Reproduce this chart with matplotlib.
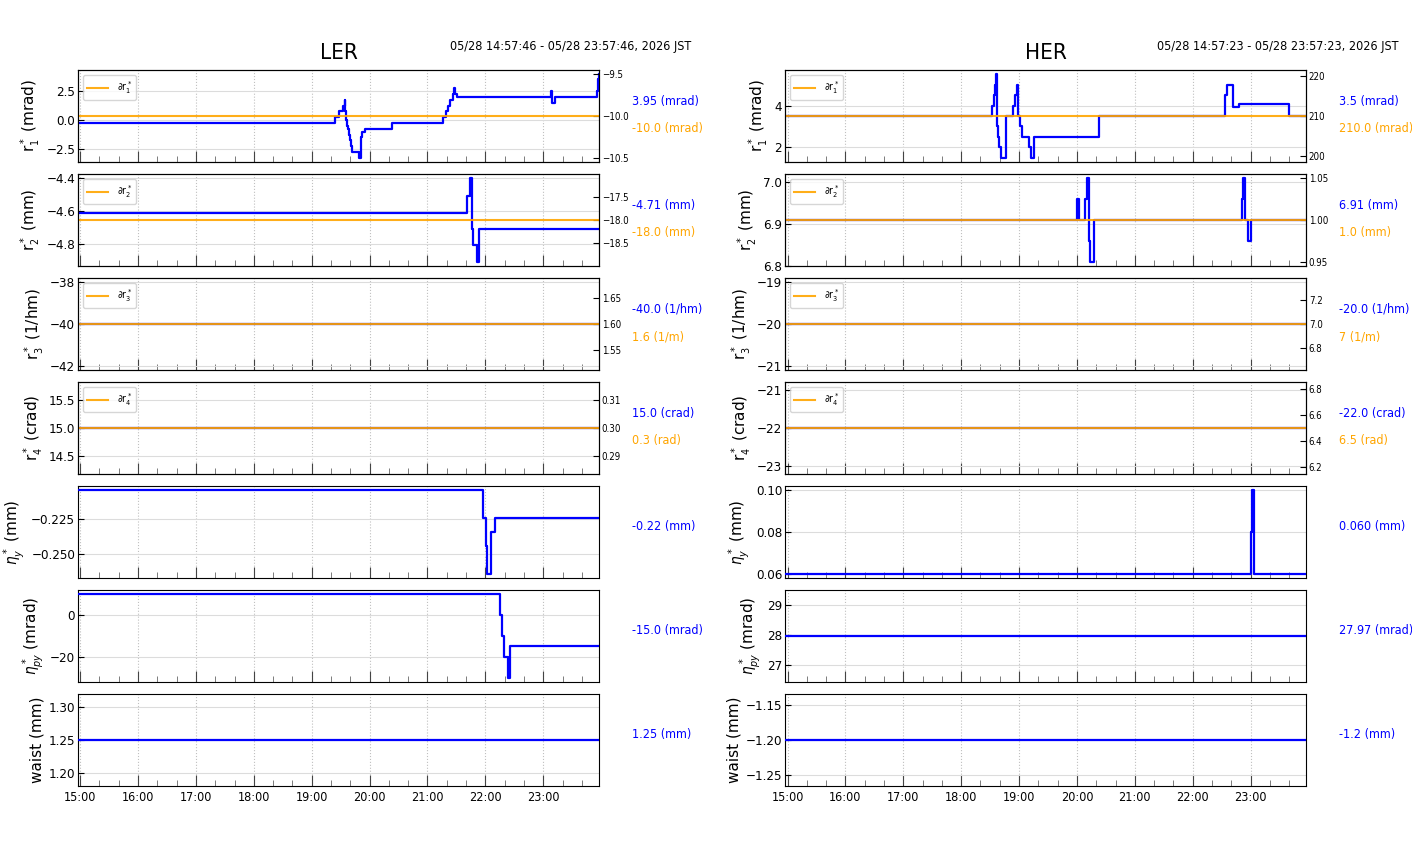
import datetime as dt
import matplotlib
matplotlib.use("Agg")
import matplotlib.pyplot as plt
import matplotlib.dates as mdates
from matplotlib import font_manager

# ---- data ----
ler_start, ler_end = "14:57:46", "23:57:46"
her_start, her_end = "14:57:23", "23:57:23"

ler_r1_t = ["14:57:46", "19:24", "19:28", "19:32", "19:34", "19:35", "19:36", "19:37", "19:38",
            "19:39", "19:40", "19:41", "19:42", "19:49", "19:51", "19:52", "19:55", "20:23",
            "21:16", "21:19", "21:21", "21:23", "21:26", "21:27", "21:29", "21:31", "23:08",
            "23:09", "23:12", "23:56", "23:56:30", "23:57", "23:57:20", "23:57:46"]
ler_r1_v = [-0.25, 0.25, 0.75, 1.25, 1.75, 0.75, 0.0, -0.5, -0.75, -1.25, -1.75, -2.25, -2.75,
            -3.25, -1.5, -1.0, -0.75, -0.25, 0.25, 0.75, 1.25, 1.75, 2.25, 2.75, 2.25, 2.0, 2.5,
            1.5, 2.0, 2.5, 3.0, 3.5, 3.95, 3.95]
ler_r2_t = ["14:57:46", "21:41", "21:44", "21:46", "21:47:30", "21:51", "21:53:30", "23:57:46"]
ler_r2_v = [-4.61, -4.51, -4.40, -4.71, -4.81, -4.91, -4.71, -4.71]
ler_r3_t = ["14:57:46", "23:57:46"]
ler_r3_v = [-40.0, -40.0]
ler_r4_t = ["14:57:46", "23:57:46"]
ler_r4_v = [15.0, 15.0]
ler_ny_t = ["14:57:46", "21:58", "22:00:30", "22:02", "22:05:30", "22:09:30", "23:57:46"]
ler_ny_v = [-0.204, -0.224, -0.244, -0.264, -0.234, -0.224, -0.224]
ler_npy_t = ["14:57:46", "22:15", "22:17", "22:19", "22:23", "22:26", "23:57:46"]
ler_npy_v = [10, 0, -10, -20, -30, -15, -15]
ler_waist_t = ["14:57:46", "23:57:46"]
ler_waist_v = [1.25, 1.25]
ler_dr = [-10.0, -18.0, 1.6, 0.3]

her_r1_t = ["14:57:23", "18:32", "18:34:30", "18:35", "18:36", "18:37", "18:38", "18:39:30",
            "18:41:30", "18:46:30", "18:53:30", "18:56", "18:57:30", "18:59", "19:01", "19:03",
            "19:10", "19:12:30", "19:15", "20:23", "22:33", "22:36", "22:42", "22:48", "23:40",
            "23:57:23"]
her_r1_v = [3.5, 4.0, 4.5, 5.0, 5.5, 3.0, 2.5, 2.0, 1.5, 3.5, 4.0, 4.5, 5.0, 3.5, 3.0, 2.5,
            2.0, 1.5, 2.5, 3.5, 4.5, 5.0, 3.95, 4.05, 3.5, 3.5]
her_r2_t = ["14:57:23", "20:00", "20:02:30", "20:08:30", "20:10", "20:12", "20:14", "20:17:30",
            "22:51", "22:52", "22:54", "22:57", "23:00:30", "23:57:23"]
her_r2_v = [6.91, 6.96, 6.91, 6.96, 7.01, 6.86, 6.81, 6.91, 6.96, 7.01, 6.91, 6.86, 6.91, 6.91]
her_r3_t = ["14:57:23", "23:57:23"]
her_r3_v = [-20.0, -20.0]
her_r4_t = ["14:57:23", "23:57:23"]
her_r4_v = [-22.0, -22.0]
her_ny_t = ["14:57:23", "23:00:30", "23:01:30", "23:03", "23:57:23"]
her_ny_v = [0.06, 0.08, 0.10, 0.06, 0.06]
her_npy_t = ["14:57:23", "23:57:23"]
her_npy_v = [27.97, 27.97]
her_waist_t = ["14:57:23", "23:57:23"]
her_waist_v = [-1.2, -1.2]
her_dr = [210.0, 1.0, 7.0, 6.5]

ylabels = ["r$_1^*$ (mrad)", "r$_2^*$ (mm)", "r$_3^*$ (1/hm)", "r$_4^*$ (crad)",
           "$\\eta_y^*$ (mm)", "$\\eta_{py}^*$ (mrad)", "waist (mm)"]
dr_labels = ["∂r$_1^*$", "∂r$_2^*$", "∂r$_3^*$", "∂r$_4^*$"]

ler_blue_txt = ["3.95 (mrad)", "-4.71 (mm)", "-40.0 (1/hm)", "15.0 (crad)", "-0.22 (mm)",
                "-15.0 (mrad)", "1.25 (mm)"]
ler_orange_txt = ["-10.0 (mrad)", "-18.0 (mm)", "1.6 (1/m)", "0.3 (rad)"]
her_blue_txt = ["3.5 (mrad)", "6.91 (mm)", "-20.0 (1/hm)", "-22.0 (crad)", "0.060 (mm)",
                "27.97 (mrad)", "-1.2 (mm)"]
her_orange_txt = ["210.0 (mrad)", "1.0 (mm)", "7 (1/m)", "6.5 (rad)"]

ler_stamp = "05/28 14:57:46 - 05/28 23:57:46, 2026 JST"
her_stamp = "05/28 14:57:23 - 05/28 23:57:23, 2026 JST"

# ---- fonts: a condensed face if one is installed, else Liberation Sans ----
condensed = [f for f in font_manager.fontManager.ttflist
             if f.name == "DejaVu Sans" and "ondensed" in f.fname]
if condensed:
    plt.rcParams["font.family"] = ["DejaVu Sans"]
    plt.rcParams["font.stretch"] = "condensed"
else:
    plt.rcParams["font.family"] = ["Liberation Sans", "DejaVu Sans"]


def ts(s):
    parts = [int(p) for p in s.split(":")]
    while len(parts) < 3:
        parts.append(0)
    return dt.datetime(2026, 5, 28, *parts)


def draw_ring(left, title, stamp, start, end, series, dr, blue_txt, orange_txt):
    width = 521 / 1412
    axes = []
    for i, (t, v) in enumerate(series):
        bottom = 1 - (162 + 104 * i) / 864
        ax = fig.add_axes([left, bottom, width, 92 / 864])
        ax.plot([ts(x) for x in t], v, color="blue", lw=1.6, drawstyle="steps-post", zorder=3)
        ax.set_xlim(ts(start), ts(end))
        ax.grid(True, axis="x", ls=":", color="#c0c0c0", lw=0.8)
        ax.grid(True, axis="y", ls="-", color="#dcdcdc", lw=0.8)
        ax.set_ylabel(ylabels[i], fontsize=11, family="DejaVu Sans", stretch="normal",
                      labelpad=3)
        ax.xaxis.set_major_locator(mdates.HourLocator())
        ax.xaxis.set_minor_locator(mdates.MinuteLocator(byminute=[20, 40]))
        ax.xaxis.set_major_formatter(mdates.DateFormatter("%H:%M"))
        ax.tick_params(axis="x", which="major", direction="in", length=8,
                       labelsize=9, top=False, color="#444444")
        ax.tick_params(axis="x", which="minor", direction="in", length=4, top=False,
                       color="#666666")
        ax.tick_params(axis="y", direction="in", length=4, labelsize=9.5, pad=2)
        if i < 6:
            ax.tick_params(axis="x", labelbottom=False)
        if i < 4:
            tw = ax.twinx()
            tw.plot([ts(start), ts(end)], [dr[i], dr[i]], color="orange", lw=1.5,
                    alpha=0.9, label=dr_labels[i])
            tw.set_xlim(ts(start), ts(end))
            tw.tick_params(axis="y", direction="in", length=4, labelsize=7, pad=2)
            tw.legend(loc="upper left", fontsize=7.5, handlelength=2)
            ax.text(1.064, 0.66, blue_txt[i], color="blue", fontsize=9,
                    transform=ax.transAxes, va="center")
            ax.text(1.064, 0.36, orange_txt[i], color="orange", fontsize=9,
                    transform=ax.transAxes, va="center")
        else:
            ax.text(1.064, 0.565, blue_txt[i], color="blue", fontsize=9,
                    transform=ax.transAxes, va="center")
        axes.append(ax)
    axes[0].set_title(title, fontsize=16, pad=8)
    axes[0].text(1.178, 1.26, stamp, fontsize=9, ha="right", va="center",
                 transform=axes[0].transAxes)


fig = plt.figure(figsize=(14.12, 8.64), dpi=100)

ler_series = [(ler_r1_t, ler_r1_v), (ler_r2_t, ler_r2_v), (ler_r3_t, ler_r3_v),
              (ler_r4_t, ler_r4_v), (ler_ny_t, ler_ny_v), (ler_npy_t, ler_npy_v),
              (ler_waist_t, ler_waist_v)]
her_series = [(her_r1_t, her_r1_v), (her_r2_t, her_r2_v), (her_r3_t, her_r3_v),
              (her_r4_t, her_r4_v), (her_ny_t, her_ny_v), (her_npy_t, her_npy_v),
              (her_waist_t, her_waist_v)]

draw_ring(78 / 1412, "LER", ler_stamp, ler_start, ler_end, ler_series, ler_dr,
          ler_blue_txt, ler_orange_txt)
draw_ring(785 / 1412, "HER", her_stamp, her_start, her_end, her_series, her_dr,
          her_blue_txt, her_orange_txt)

fig.savefig("out.png", dpi=100)
